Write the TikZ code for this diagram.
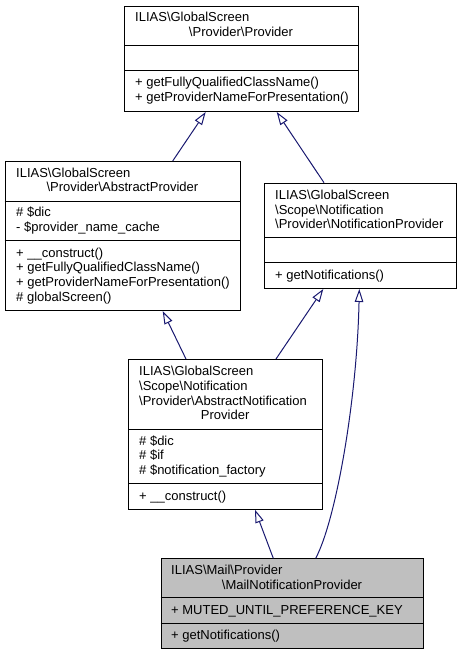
\documentclass[tikz,border=0pt]{standalone}
\usepackage{fontspec}
\setmainfont{Liberation Sans}
\usetikzlibrary{arrows.meta, calc, positioning}
\definecolor{edgeBlue}{HTML}{191970}
\definecolor{greySel}{HTML}{BFBFBF}
\tikzset{
    classBox/.style={draw=black, line width=1pt, fill=white, inner sep=0pt, anchor=north west},
    classSel/.style={classBox, fill=greySel},
    classLine/.style={draw=black, line width=1pt},
    member/.style={font=\fontsize{13}{15}\selectfont, inner sep=0pt, anchor=base west},
    memberC/.style={member, anchor=base},
    inherit/.style={-{Triangle[open, length=13pt, width=8.5pt]}, draw=edgeBlue, line width=1pt},
}
\newcommand{\nsSep}{\textbackslash}
\newcommand{\classNode}[6][classBox]{
    \node[#1, minimum width=#5pt, minimum height=#6pt] (#2) at (#3, #4) {};
}
\newcommand{\classSep}[2]{
    \draw[classLine] ([yshift=-#2pt]#1.north west) -- ([yshift=-#2pt]#1.north east);
}

\begin{document}
\begin{tikzpicture}[x=1pt, y=-1pt]
    \useasboundingbox (0,0) rectangle (461,655);

    % class boxes
    \classNode{prov}{124}{5.7}{234}{105.3}
    \classSep{prov}{40.3}
    \classSep{prov}{65.3}
    \classNode{absprov}{4.7}{161}{235.3}{149}
    \classSep{absprov}{40}
    \classSep{absprov}{79.5}
    \classNode{notif}{264}{182.7}{192}{105.3}
    \classSep{notif}{54.6}
    \classSep{notif}{80}
    \classNode{absnotif}{128.3}{359}{193.7}{149.7}
    \classSep{absnotif}{70}
    \classSep{absnotif}{124.3}
    \classNode[classSel]{mail}{160.7}{558.3}{262.6}{90}
    \classSep{mail}{39}
    \classSep{mail}{65}

    % Provider
    \node[member] (prov-t1) at (135,22) {ILIAS\nsSep GlobalScreen};
    \node[memberC] (prov-t2) at (241,36.7) {\nsSep Provider\nsSep Provider};
    \node[member] (prov-m1) at (135,86.5) {+ getFullyQualifiedClassName()};
    \node[member] (prov-m2) at (135,101.2) {+ getProviderNameForPresentation()};

    % AbstractProvider
    \node[member] (absprov-t1) at (16,177) {ILIAS\nsSep GlobalScreen};
    \node[memberC] (absprov-t2) at (122.4,191.5) {\nsSep Provider\nsSep AbstractProvider};
    \node[member] (absprov-a1) at (16,216.7) {\# \$dic};
    \node[member] (absprov-a2) at (16,231.4) {- \$provider\_name\_cache};
    \node[member] (absprov-m1) at (16,257) {+ \_\_construct()};
    \node[member] (absprov-m2) at (16,271.7) {+ getFullyQualifiedClassName()};
    \node[member] (absprov-m3) at (16,286.4) {+ getProviderNameForPresentation()};
    \node[member] (absprov-m4) at (16,301) {\# globalScreen()};

    % NotificationProvider
    \node[member] (notif-t1) at (275,199.3) {ILIAS\nsSep GlobalScreen};
    \node[member] (notif-t2) at (275,214) {\nsSep Scope\nsSep Notification};
    \node[member] (notif-t3) at (275,228.7) {\nsSep Provider\nsSep NotificationProvider};
    \node[member] (notif-m1) at (275,279.3) {+ getNotifications()};

    % AbstractNotificationProvider
    \node[member] (absnotif-t1) at (139,375.7) {ILIAS\nsSep GlobalScreen};
    \node[member] (absnotif-t2) at (139,390.3) {\nsSep Scope\nsSep Notification};
    \node[member] (absnotif-t3) at (139,405) {\nsSep Provider\nsSep AbstractNotification};
    \node[memberC] (absnotif-t4) at (225.2,419.7) {Provider};
    \node[member] (absnotif-a1) at (139,445) {\# \$dic};
    \node[member] (absnotif-a2) at (139,459.7) {\# \$if};
    \node[member] (absnotif-a3) at (139,474.4) {\# \$notification\_factory};
    \node[member] (absnotif-m1) at (139,500) {+ \_\_construct()};

    % MailNotificationProvider
    \node[member] (mail-t1) at (171,574.3) {ILIAS\nsSep Mail\nsSep Provider};
    \node[memberC] (mail-t2) at (292,589) {\nsSep MailNotificationProvider};
    \node[member] (mail-a1) at (171,614) {+ MUTED\_UNTIL\_PREFERENCE\_KEY};
    \node[member] (mail-m1) at (171,639.3) {+ getNotifications()};

    % inheritance
    \draw[inherit] ([xshift=168pt]absprov.north west) -- ([xshift=81.7pt]prov.south west);
    \draw[inherit] ([xshift=60pt]notif.north west) -- ([xshift=152.7pt]prov.south west);
    \draw[inherit] ([xshift=57.7pt]absnotif.north west) -- ([xshift=158pt]absprov.south west);
    \draw[inherit] ([xshift=147.7pt]absnotif.north west) -- ([xshift=59.3pt]notif.south west);
    \draw[inherit] ([xshift=112.6pt]mail.north west) -- ([xshift=126.7pt]absnotif.south west);
    \draw[inherit] ([xshift=155pt]mail.north west) .. controls (336,520) and (357,400) .. ([xshift=95.3pt]notif.south west);

\end{tikzpicture}
\end{document}
